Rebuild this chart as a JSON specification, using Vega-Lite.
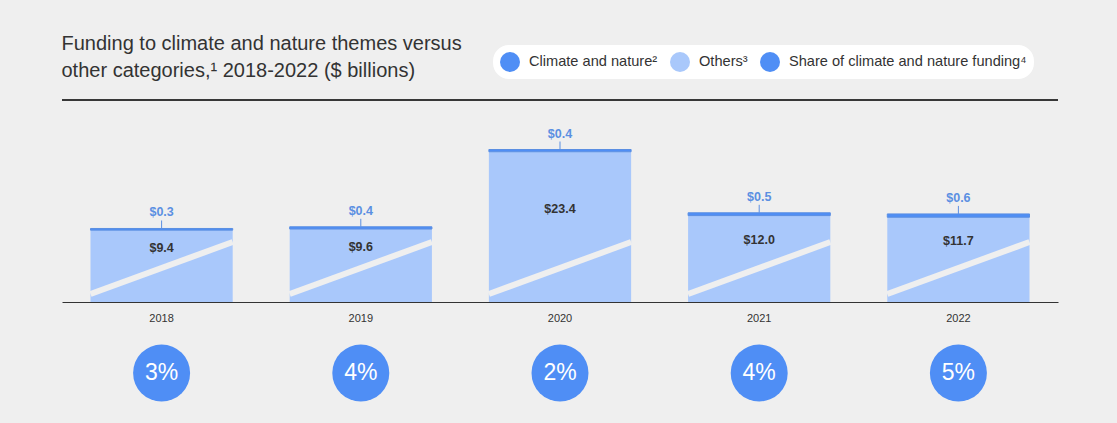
{
  "$schema": "https://vega.github.io/schema/vega-lite/v6.json",
  "width": 996,
  "height": 202,
  "autosize": {"type": "none"},
  "padding": {"left": 62, "top": 100, "right": 59, "bottom": 121},
  "background": "#efefef",
  "title": {
    "text": ["Funding to climate and nature themes versus", "other categories,¹ 2018-2022 ($ billions)"],
    "anchor": "start",
    "font": "Liberation Sans",
    "fontSize": 20,
    "fontWeight": "normal",
    "color": "#333333",
    "lineHeight": 27,
    "offset": 18,
    "dy": 54
  },
  "config": {
    "view": {"stroke": null},
    "font": "Liberation Sans",
    "legend": {
      "orient": "none",
      "legendX": 431,
      "legendY": -55,
      "direction": "horizontal",
      "fillColor": "white",
      "cornerRadius": 16,
      "padding": 7,
      "symbolSize": 400,
      "symbolType": "circle",
      "symbolStrokeWidth": 0,
      "labelFontSize": 14.6,
      "labelFont": "Liberation Sans",
      "labelColor": "#333333",
      "labelOffset": 9,
      "labelLimit": 0,
      "columnPadding": 12
    }
  },
  "data": {
    "values": [
      {"year": "2018", "climate": 0.3, "others": 9.4, "share": 0.03},
      {"year": "2019", "climate": 0.4, "others": 9.6, "share": 0.04},
      {"year": "2020", "climate": 0.4, "others": 23.4, "share": 0.02},
      {"year": "2021", "climate": 0.5, "others": 12.0, "share": 0.04},
      {"year": "2022", "climate": 0.6, "others": 11.7, "share": 0.05}
    ]
  },
  "transform": [
    {"calculate": "datum.climate + datum.others", "as": "total"},
    {"calculate": "(datum.climate + datum.others + 2.64) / 2", "as": "labelY"}
  ],
  "layer": [
    {
      "encoding": {
        "x": {
          "field": "year",
          "type": "nominal",
          "scale": {"paddingInner": 0.286, "paddingOuter": 0.143},
          "axis": {
            "title": null,
            "labelAngle": 0,
            "ticks": false,
            "domainColor": "#333333",
            "domainWidth": 1,
            "labelPadding": 10,
            "labelFontSize": 11,
            "labelColor": "#333333",
            "labelFont": "Liberation Sans",
            "grid": false
          }
        }
      },
      "layer": [
        {
          "mark": {"type": "bar"},
          "encoding": {
            "y": {"field": "others", "type": "quantitative", "scale": {"domain": [-3.43, 32.64], "zero": false, "nice": false}, "axis": null},
            "y2": {"datum": -3.43},
            "color": {
              "datum": "Others³",
              "scale": {
                "domain": ["Climate and nature²", "Others³", "Share of climate and nature funding⁴"],
                "range": ["#4f8ef5", "#a9c8fb", "#4f8ef5"]
              },
              "legend": {"title": null}
            }
          }
        },
        {
          "mark": {"type": "bar", "stroke": "#5b8fe2", "strokeWidth": 1},
          "encoding": {
            "y": {"field": "total", "type": "quantitative"},
            "y2": {"field": "others"},
            "color": {"datum": "Climate and nature²"}
          }
        },
        {
          "mark": {"type": "rule", "color": "#efefef", "strokeWidth": 6, "strokeCap": "butt"},
          "encoding": {
            "x": {"field": "year", "type": "nominal", "bandPosition": 0},
            "x2": {"field": "year", "bandPosition": 1},
            "y": {"datum": -2.0},
            "y2": {"datum": 7.28}
          }
        },
        {
          "mark": {"type": "rule", "color": "#5b8fe2", "strokeWidth": 1, "y2Offset": -8},
          "encoding": {
            "y": {"field": "total", "type": "quantitative"},
            "y2": {"field": "total"}
          }
        },
        {
          "mark": {"type": "text", "baseline": "bottom", "dy": -9, "fontSize": 12.5, "fontWeight": "bold", "color": "#5b8fe2"},
          "encoding": {
            "y": {"field": "total", "type": "quantitative"},
            "text": {"field": "climate", "type": "quantitative", "format": "$.1f"}
          }
        },
        {
          "mark": {"type": "text", "baseline": "middle", "fontSize": 12.5, "fontWeight": "bold", "color": "#333333"},
          "encoding": {
            "y": {"field": "labelY", "type": "quantitative"},
            "text": {"field": "others", "type": "quantitative", "format": "$.1f"}
          }
        },
        {
          "mark": {"type": "point", "filled": true, "shape": "circle", "size": 3249, "opacity": 1},
          "encoding": {
            "y": {"datum": -16.11},
            "color": {"datum": "Share of climate and nature funding⁴"}
          }
        },
        {
          "mark": {"type": "text", "baseline": "middle", "fontSize": 23, "color": "white"},
          "encoding": {
            "y": {"datum": -16.11},
            "text": {"field": "share", "type": "quantitative", "format": ".0%"}
          }
        }
      ]
    },
    {
      "mark": {"type": "rule", "color": "#333333", "strokeWidth": 1},
      "encoding": {
        "y": {"datum": 32.64}
      }
    }
  ]
}
